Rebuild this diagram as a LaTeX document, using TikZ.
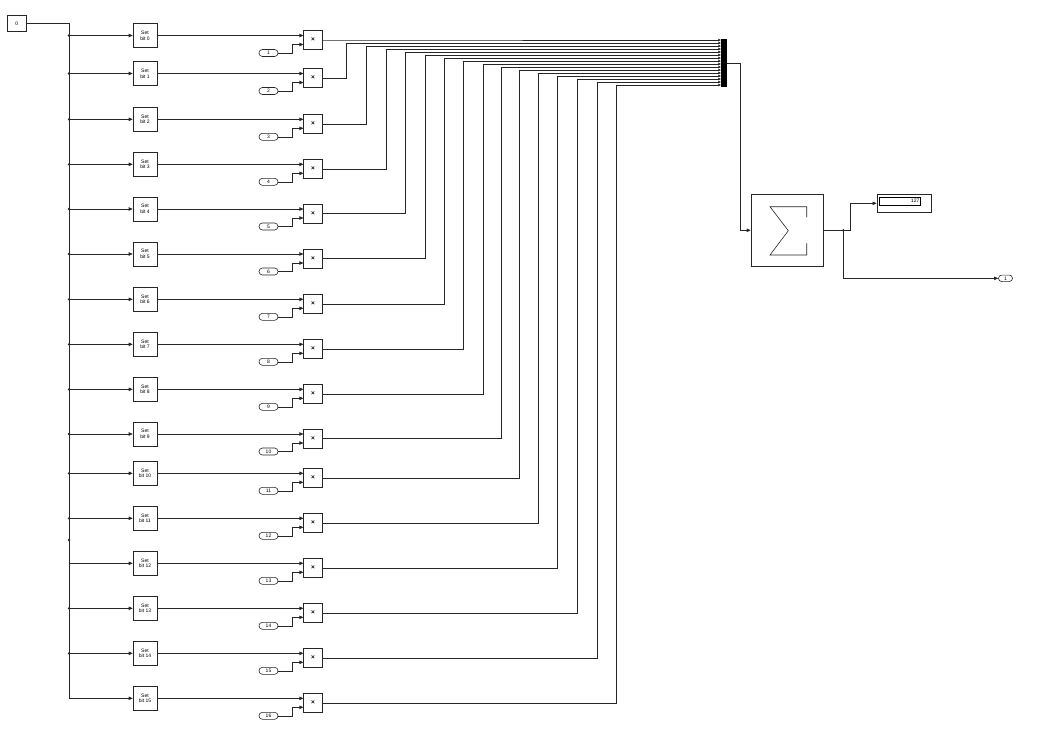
\documentclass[tikz,border=0pt]{standalone}
\usepackage{fontspec}
\setmainfont{Liberation Sans}
\usetikzlibrary{arrows.meta,calc}

\tikzset{
	wire/.style={draw=black!85,line width=0.6pt},
	arr/.style={wire,-{Triangle[length=4pt,width=3.4pt]}},
	muxarr/.style={wire,-{Triangle[length=2.6pt,width=2.4pt]}},
	blk/.style={draw=black!85,line width=0.6pt,fill=white,inner sep=0pt,align=center,font=\fontsize{5}{5.6}\selectfont},
	setbox/.style={blk,minimum width=24pt,minimum height=24pt},
	prodbox/.style={blk,minimum width=18.5pt,minimum height=19pt,font=\fontsize{6.5}{7}\selectfont\bfseries},
	portbox/.style={blk,rounded corners=3.4pt,minimum width=19pt,minimum height=7pt}
}

\begin{document}
\begin{tikzpicture}[x=1pt,y=-1pt]
			\useasboundingbox (0,0) rectangle (1041,729);
			
			\node[blk,minimum width=18.7pt,minimum height=16.7pt] (C) at (16.7,23.3) {0};
			
			\foreach \k/\r/\xv in {0/35.5/330,1/73.5/346,2/119.3/366,3/164.3/386,4/209/405,5/254/425,6/299.3/444,7/344.3/463,8/389.3/483,9/434/501,10/473.3/519,11/518.3/538,12/563.3/557,13/608.3/577,14/653.3/597,15/698.3/616}{
				\pgfmathtruncatemacro\n{\k+1}
				\coordinate (b\k) at (69,\r);
				\coordinate (m\k) at (721,40+3*\k);
				\node[setbox] (S\k) at (145,\r) {Set\\bit \k};
				\node[prodbox] (P\k) at (313,\r+4.5) {×};
				\node[portbox] (I\k) at (268.5,\r+17.5) {\n};
				\draw[arr] (b\k) -- (S\k.west);
				\draw[arr] (S\k.east) -- (S\k.east -| P\k.west);
				\draw[arr] (I\k.east) -- (292,\r+17.5) |- ([yshift=-4.5pt]P\k.west);
				\draw[muxarr] (P\k.east) -| (\xv,40+3*\k) -- (m\k);
			}
			
			\draw[wire] (C.east) -| (b15);
			\foreach \k in {0,...,11,13,14}
			\fill[black!85] (b\k) circle[radius=1.3pt];
			\fill[black!85] (69,540) circle[radius=1.3pt];
			
			\node[fill=black,inner sep=0pt,minimum width=6pt,minimum height=48pt] (M) at (724,63) {};
			
			\node[blk,minimum width=72pt,minimum height=72pt] (Sum) at (787,230.3) {};
			\draw[wire] (806.7,217.3) -- (806.7,206.7) -- (770,206.7) -- (788.3,230.7)
			-- (770,255) -- (806.7,255) -- (806.7,243.3);
			\draw[arr] (M.east) -- (740,63) |- (Sum.west);
			
			\node[blk,minimum width=54.7pt,minimum height=18.7pt] (D) at (904.3,203.3) {};
			\node[draw=black,line width=0.8pt,inner sep=0pt,minimum width=41.7pt,minimum height=7.7pt,
			text width=39pt,align=right,font=\fontsize{5}{5.6}\selectfont] (V) at (899.8,201.2) {127};
			\node[portbox,minimum width=14pt,minimum height=6.5pt,rounded corners=3.2pt] (O) at (1005.5,278.3) {1};
			
			\coordinate (J) at (843.3,230.3);
			\draw[wire] (Sum.east) -- (J);
			\fill[black!85] (J) circle[radius=1.3pt];
			\draw[arr] (J) -- (850.7,230.3) |- (D.west);
			\draw[arr] (J) |- (O.west);
			
\end{tikzpicture}
\end{document}
